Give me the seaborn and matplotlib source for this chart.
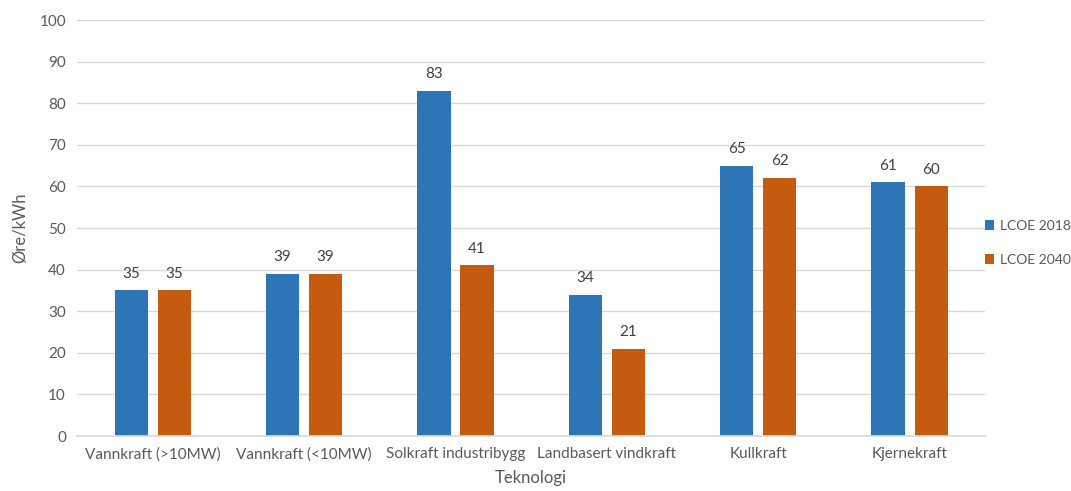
import matplotlib
matplotlib.use("Agg")
import matplotlib.pyplot as plt
import seaborn as sns
import pandas as pd

categories = ["Vannkraft (>10MW)", "Vannkraft (<10MW)", "Solkraft industribygg",
              "Landbasert vindkraft", "Kullkraft", "Kjernekraft"]
lcoe_2018 = [35, 39, 83, 34, 65, 61]
lcoe_2040 = [35, 39, 41, 21, 62, 60]
series = ["LCOE 2018", "LCOE 2040"]
colors = ["#2E75B6", "#C55A11"]

df = pd.DataFrame({
    "Teknologi": categories * 2,
    "value": lcoe_2018 + lcoe_2040,
    "serie": [series[0]] * len(categories) + [series[1]] * len(categories),
})

sns.set_theme(style="white")
plt.rcParams["font.family"] = ["Lato", "DejaVu Sans"]
text_color = "#595959"

fig = plt.figure(figsize=(10.71, 4.91), dpi=100)
ax = fig.add_axes([0.072, 0.112, 0.848, 0.847])

sns.barplot(data=df, x="Teknologi", y="value", hue="serie", palette=colors,
            width=0.57, gap=0.23, ax=ax, errorbar=None, saturation=1,
            linewidth=0)

for container in ax.containers:
    ax.bar_label(container, labels=[f"{v:.0f}" for v in container.datavalues],
                 padding=7, fontsize=11, color="#404040")

ax.set_ylim(0, 100)
ax.set_yticks(range(0, 101, 10))
ax.yaxis.grid(True, color="#d9d9d9", linewidth=1)
ax.set_axisbelow(True)
for s in ["top", "right", "left"]:
    ax.spines[s].set_visible(False)
ax.spines["bottom"].set_color("#d9d9d9")
ax.tick_params(axis="both", length=0, labelsize=11, colors=text_color, pad=8)
ax.set_xlim(-0.5, len(categories) - 0.5)
ax.set_ylabel("Øre/kWh", fontsize=12, color=text_color, labelpad=8)
ax.set_xlabel("Teknologi", fontsize=12, color=text_color, labelpad=6)

handles, labels = ax.get_legend_handles_labels()
ax.legend(handles, labels, loc="center left", bbox_to_anchor=(0.993, 0.465),
          frameon=False, fontsize=10, labelcolor=text_color, borderaxespad=0,
          handlelength=0.7, handleheight=0.7, handletextpad=0.4, labelspacing=1.6)

fig.savefig("out.png", dpi=100)
